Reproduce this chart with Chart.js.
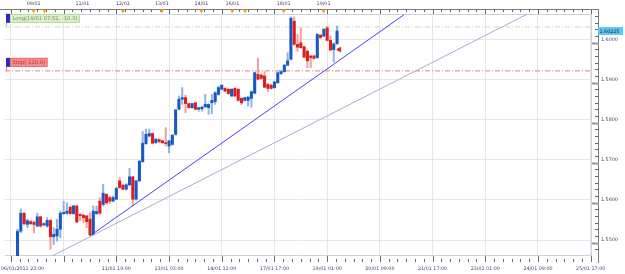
<!DOCTYPE html>
<html>
<head>
<meta charset="utf-8">
<script src="https://cdn.jsdelivr.net/npm/chart.js@4.4.1/dist/chart.umd.min.js"></script>
<style>
  html, body { margin: 0; padding: 0; background: #fff; }
  #wrap { width: 625px; height: 274px; }
</style>
</head>
<body>
<div id="wrap"><canvas id="chart" width="625" height="274"></canvas></div>
<script>
// 2h candles, index 0 = first candle on screen
const opens = [
  1.5457, 1.5522, 1.5567, 1.5539, 1.5546, 1.5544, 1.5535, 1.5558, 1.5538, 1.5535,
  1.5549, 1.5508, 1.5510, 1.5527, 1.5566, 1.5567, 1.5582, 1.5566, 1.5585, 1.5564,
  1.5562, 1.5560, 1.5552, 1.5514, 1.5566, 1.5597, 1.5589, 1.5614, 1.5606, 1.5597,
  1.5602, 1.5648, 1.5637, 1.5627, 1.5638, 1.5658, 1.5602, 1.5648, 1.5696, 1.5741,
  1.5760, 1.5766, 1.5743, 1.5751, 1.5748, 1.5743, 1.5735, 1.5739, 1.5764, 1.5827,
  1.5852, 1.5856, 1.5841, 1.5831, 1.5843, 1.5827, 1.5828, 1.5833, 1.5831, 1.5843,
  1.5846, 1.5864, 1.5877, 1.5879, 1.5877, 1.5860, 1.5879, 1.5877, 1.5854, 1.5849,
  1.5849, 1.5854, 1.5867, 1.5914, 1.5912, 1.5910, 1.5889, 1.5887, 1.5881, 1.5893,
  1.5916, 1.5921, 1.5937, 1.5952, 1.6047, 1.5989, 1.5993, 1.5983, 1.5972, 1.5960,
  1.5960, 1.5956, 1.6012, 1.6010, 1.6030, 1.5999, 1.5976, 1.5991
];
const highs = [
  1.5527, 1.5578, 1.5568, 1.5552, 1.5549, 1.5548, 1.5567, 1.5559, 1.5543, 1.5556,
  1.5551, 1.5531, 1.5552, 1.5572, 1.5597, 1.5593, 1.5585, 1.5587, 1.5587, 1.5566,
  1.5564, 1.5562, 1.5568, 1.5585, 1.5585, 1.5606, 1.5639, 1.5616, 1.5610, 1.5610,
  1.5632, 1.5656, 1.5639, 1.5641, 1.5679, 1.5659, 1.5649, 1.5699, 1.5771, 1.5777,
  1.5777, 1.5768, 1.5754, 1.5753, 1.5749, 1.5781, 1.5749, 1.5764, 1.5827, 1.5860,
  1.5881, 1.5862, 1.5842, 1.5842, 1.5845, 1.5832, 1.5835, 1.5864, 1.5841, 1.5864,
  1.5871, 1.5885, 1.5888, 1.5881, 1.5878, 1.5878, 1.5881, 1.5878, 1.5856, 1.5857,
  1.5859, 1.5872, 1.5920, 1.5954, 1.5916, 1.5921, 1.5891, 1.5889, 1.5897, 1.5920,
  1.5924, 1.5939, 1.5968, 1.6058, 1.6058, 1.6014, 1.6031, 1.5985, 1.5974, 1.5962,
  1.5962, 1.6016, 1.6014, 1.6028, 1.6034, 1.6010, 1.5993, 1.6035
];
const lows = [
  1.5456, 1.5518, 1.5537, 1.5531, 1.5538, 1.5518, 1.5533, 1.5532, 1.5535, 1.5532,
  1.5477, 1.5489, 1.5497, 1.5506, 1.5564, 1.5564, 1.5564, 1.5564, 1.5543, 1.5548,
  1.5543, 1.5531, 1.5511, 1.5512, 1.5564, 1.5564, 1.5585, 1.5589, 1.5591, 1.5596,
  1.5601, 1.5629, 1.5625, 1.5625, 1.5635, 1.5585, 1.5600, 1.5646, 1.5694, 1.5739,
  1.5758, 1.5740, 1.5742, 1.5744, 1.5742, 1.5735, 1.5718, 1.5737, 1.5762, 1.5825,
  1.5839, 1.5818, 1.5829, 1.5829, 1.5825, 1.5822, 1.5822, 1.5831, 1.5814, 1.5816,
  1.5839, 1.5862, 1.5875, 1.5871, 1.5864, 1.5858, 1.5858, 1.5847, 1.5839, 1.5847,
  1.5835, 1.5832, 1.5865, 1.5900, 1.5902, 1.5881, 1.5871, 1.5877, 1.5879, 1.5892,
  1.5914, 1.5919, 1.5936, 1.5950, 1.5987, 1.5972, 1.5979, 1.5956, 1.5931, 1.5931,
  1.5952, 1.5954, 1.6004, 1.6008, 1.5998, 1.5973, 1.5945, 1.5989
];
const closes = [
  1.5522, 1.5567, 1.5541, 1.5548, 1.5541, 1.5539, 1.5558, 1.5535, 1.5541, 1.5549,
  1.5508, 1.5514, 1.5527, 1.5567, 1.5569, 1.5572, 1.5566, 1.5585, 1.5545, 1.5561,
  1.5556, 1.5546, 1.5513, 1.5572, 1.5571, 1.5567, 1.5617, 1.5593, 1.5597, 1.5606,
  1.5629, 1.5631, 1.5627, 1.5638, 1.5658, 1.5602, 1.5648, 1.5697, 1.5742, 1.5764,
  1.5766, 1.5742, 1.5752, 1.5746, 1.5743, 1.5741, 1.5748, 1.5762, 1.5825, 1.5852,
  1.5856, 1.5841, 1.5831, 1.5841, 1.5827, 1.5831, 1.5832, 1.5839, 1.5839, 1.5849,
  1.5868, 1.5881, 1.5887, 1.5872, 1.5866, 1.5877, 1.5860, 1.5849, 1.5843, 1.5856,
  1.5857, 1.5871, 1.5918, 1.5902, 1.5904, 1.5882, 1.5879, 1.5879, 1.5895, 1.5918,
  1.5921, 1.5937, 1.5948, 1.6054, 1.5989, 1.5982, 1.5981, 1.5957, 1.5948, 1.5956,
  1.5954, 1.6014, 1.6006, 1.6027, 1.5999, 1.5975, 1.5990, 1.60225
];

// time axis (candle index units)
const xMin = -3.8, xMax = 174.4;
const yMin = 1.5460, yMax = 1.6065;
const timeTicks = [-2, 14, 30, 46, 62, 78, 94, 110, 126, 142, 158, 174];
const timeLabels = ['06/01/2011 23:00', '', '11/01 19:00', '13/01 03:00', '14/01 11:00', '17/01 17:00',
  '19/01 01:00', '20/01 09:00', '21/01 17:00', '23/01 01:00', '24/01 09:00', '25/01 17:00'];
const dayTicks = [4.9, 19.7, 32, 43.8, 55.8, 65.2, 80.8, 92.9];
const dayLabels = ['09/01', '11/01', '12/01', '13/01', '14/01', '16/01', '18/01', '19/01'];
const eventMarks = [4.9, 8.2, 32, 43.8, 55.8, 65.2, 69.1, 80.8, 92.9];
const priceTicks = [1.55, 1.56, 1.57, 1.58, 1.59, 1.60];

// trade + drawn objects
const longEntry = 1.60328;
const stopLevel = 1.59228;
const longText = 'Long(19/01 07:52, -10.3)';
const stopText = 'Stop(-110.0)';
const trendA = [{ x: 22.1, y: 1.5511 }, { x: 117.3, y: 1.6063 }];
const trendB = [{ x: 10.0, y: 1.5458 }, { x: 154.8, y: 1.6065 }];
const orderMark = [{ x: 97.7, y: 1.5976 }];

const FONT = 'DejaVu Sans';
const isUp = i => closes[i] >= opens[i];

function seg(ctx, x1, y1, x2, y2) {
  ctx.beginPath();
  ctx.moveTo(x1, y1);
  ctx.lineTo(x2, y2);
  ctx.stroke();
}

function tagBox(ctx, left, bottom, text, fill, edge, ink, sq) {
  ctx.font = '5.2px "' + FONT + '"';
  const w = ctx.measureText(text).width + 5;
  const h = 9;
  const top = bottom - h;
  ctx.fillStyle = sq;
  ctx.fillRect(left, top, 4, h);
  ctx.fillStyle = fill;
  ctx.fillRect(left + 4, top, w, h);
  ctx.strokeStyle = edge;
  ctx.strokeRect(left + 4.5, top + 0.5, w - 1, h - 1);
  ctx.fillStyle = ink;
  ctx.textBaseline = 'middle';
  ctx.textAlign = 'left';
  ctx.fillText(text, left + 6.5, top + h / 2 + 0.5);
}

const decor = {
  id: 'decor',
  beforeDatasetsDraw(chart) {
    const { ctx, chartArea: a } = chart;
    ctx.save();
    ctx.strokeStyle = '#c9d3df';
    ctx.lineWidth = 1;
    seg(ctx, a.left, a.top + 0.5, a.right, a.top + 0.5);
    seg(ctx, a.right - 0.5, a.top, a.right - 0.5, a.bottom);
    seg(ctx, a.left, a.bottom - 0.5, a.right, a.bottom - 0.5);
    ctx.restore();
  },
  afterDraw(chart) {
    const { ctx, chartArea: a, scales } = chart;
    const x = scales.x, y = scales.y;
    ctx.save();
    ctx.lineWidth = 1;

    // top time bar
    ctx.strokeStyle = '#7c7c7c';
    seg(ctx, 0, 9.5, a.right + 7, 9.5);
    // right price axis
    seg(ctx, a.right + 6.5, 9, a.right + 6.5, a.bottom + 7);

    // x tick marks (top and bottom)
    const step = 16 / 6;
    for (let v = timeTicks[0] - step * 2; v <= xMax; v += step) {
      if (v < xMin) continue;
      const px = Math.round(x.getPixelForValue(v)) + 0.5;
      const major = Math.abs((v - timeTicks[0]) / 16 - Math.round((v - timeTicks[0]) / 16)) < 0.01;
      ctx.strokeStyle = '#6a6a6a';
      seg(ctx, px, 9.5, px, major ? 14 : 12);
      seg(ctx, px, major ? a.bottom : a.bottom + 3, px, a.bottom + 6);
    }
    // y tick marks
    for (let k = 0; k <= 40; k++) {
      const v = 1.546 + k * (0.01 / 6);
      const major = k % 6 === 2;
      const py = Math.round(y.getPixelForValue(v)) + 0.5;
      if (py < a.top || py > a.bottom) continue;
      ctx.strokeStyle = major ? '#999' : '#6a6a6a';
      ctx.lineWidth = major ? 2 : 1;
      seg(ctx, major ? a.right : a.right + 3, py, a.right + 7, py);
    }
    ctx.lineWidth = 1;

    // orange event marks on top bar
    ctx.fillStyle = '#f2a31b';
    eventMarks.forEach(v => {
      const px = x.getPixelForValue(v);
      ctx.beginPath();
      ctx.moveTo(px - 2.2, 9.5);
      ctx.lineTo(px + 2.2, 9.5);
      ctx.lineTo(px, 13.5);
      ctx.closePath();
      ctx.fill();
    });

    // first bottom label, left aligned
    ctx.font = '4.8px "' + FONT + '"';
    ctx.fillStyle = '#3d3d6b';
    ctx.textAlign = 'left';
    ctx.textBaseline = 'middle';
    ctx.fillText(timeLabels[0], 1, a.bottom + 13);

    // trade labels
    const yLong = y.getPixelForValue(longEntry);
    const yStop = y.getPixelForValue(stopLevel);
    ctx.strokeStyle = '#b9d6a0';
    seg(ctx, 6.5, yLong - 4, 6.5, yLong);
    ctx.strokeStyle = '#ef7b7b';
    seg(ctx, 6.5, yStop - 4, 6.5, yStop);
    tagBox(ctx, 6, yLong - 4, longText, '#deefcf', '#bcd8a4', '#6f9158', '#2d2db8');
    tagBox(ctx, 6, yStop - 4, stopText, '#f48e8e', '#e87070', '#c42b2b', '#2d2db8');

    // current price tag
    const last = closes[closes.length - 1];
    const yp = y.getPixelForValue(last);
    ctx.fillStyle = '#5cc9f3';
    ctx.fillRect(a.right + 6, yp - 4, 25, 8);
    ctx.font = '4.8px "' + FONT + '"';
    ctx.fillStyle = '#0c1c4c';
    ctx.textAlign = 'left';
    ctx.fillText(last.toFixed(5), a.right + 7.5, yp + 0.3);
    ctx.restore();
  }
};

const tickFont = { family: FONT, size: 4.8 };

new Chart(document.getElementById('chart'), {
  type: 'bar',
  data: {
    datasets: [
      {
        type: 'line', data: [{ x: xMin, y: longEntry }, { x: xMax, y: longEntry }],
        borderColor: '#c6dcaf', borderWidth: 1, borderDash: [5, 2, 1, 2],
        pointRadius: 0, order: 8
      },
      {
        type: 'line', data: [{ x: xMin, y: stopLevel }, { x: xMax, y: stopLevel }],
        borderColor: '#f07c7c', borderWidth: 1, borderDash: [5, 2, 1, 2],
        pointRadius: 0, order: 8
      },
      {
        type: 'bar', data: highs.map((h, i) => ({ x: i, y: [lows[i], h] })),
        grouped: false, barThickness: 1.4, borderWidth: 0,
        backgroundColor: c => isUp(c.dataIndex) ? '#8fb5e3' : '#f2a0a0',
        order: 6
      },
      {
        type: 'bar', data: opens.map((o, i) => ({ x: i, y: [o, closes[i]] })),
        grouped: false, barThickness: 2.4, minBarLength: 1, borderWidth: 0,
        backgroundColor: c => isUp(c.dataIndex) ? '#1857c5' : '#e01b1b',
        order: 5
      },
      {
        type: 'line', data: trendA, borderColor: '#4545f2', borderWidth: 1,
        pointRadius: 0, tension: 0, order: 3
      },
      {
        type: 'line', data: trendB, borderColor: '#ababd2', borderWidth: 1,
        pointRadius: 0, tension: 0, order: 3
      },
      {
        type: 'line', data: orderMark, showLine: false, pointStyle: 'triangle',
        rotation: -90, pointRadius: 2.6, pointBackgroundColor: '#e02020',
        pointBorderColor: '#e02020', order: 1
      }
    ]
  },
  options: {
    responsive: false,
    devicePixelRatio: 1,
    animation: false,
    events: [],
    layout: { padding: 0 },
    plugins: { legend: { display: false }, tooltip: { enabled: false } },
    scales: {
      x: {
        type: 'linear', position: 'bottom', min: xMin, max: xMax, offset: false,
        afterBuildTicks: s => { s.ticks = timeTicks.map(v => ({ value: v })); },
        afterFit: s => { s.height = 18; s.paddingLeft = 0; s.paddingRight = 0; },
        grid: { color: '#e6e6e6', drawTicks: false, offset: false },
        border: { display: false },
        ticks: {
          autoSkip: false, maxRotation: 0, minRotation: 0, padding: 10,
          font: tickFont, color: '#3d3d6b',
          callback: (v, i) => i === 0 ? '' : timeLabels[i]
        }
      },
      xTop: {
        type: 'linear', position: 'top', min: xMin, max: xMax, offset: false,
        afterBuildTicks: s => { s.ticks = dayTicks.map(v => ({ value: v })); },
        afterFit: s => { s.height = 14; s.paddingLeft = 0; s.paddingRight = 0; },
        grid: { display: false, drawTicks: false },
        border: { display: false },
        ticks: {
          autoSkip: false, maxRotation: 0, minRotation: 0, padding: 7,
          font: tickFont, color: '#3d3d6b',
          callback: (v, i) => dayLabels[i]
        }
      },
      y: {
        type: 'linear', position: 'right', min: yMin, max: yMax,
        afterBuildTicks: s => { s.ticks = priceTicks.map(v => ({ value: v })); },
        afterFit: s => { s.width = 33; s.paddingTop = 0; s.paddingBottom = 0; },
        grid: { color: '#e6e6e6', drawTicks: false },
        border: { display: false },
        ticks: {
          padding: 9, font: tickFont, color: '#3d3d6b',
          callback: v => v.toFixed(4)
        }
      }
    }
  },
  plugins: [decor]
});
</script>
</body>
</html>
